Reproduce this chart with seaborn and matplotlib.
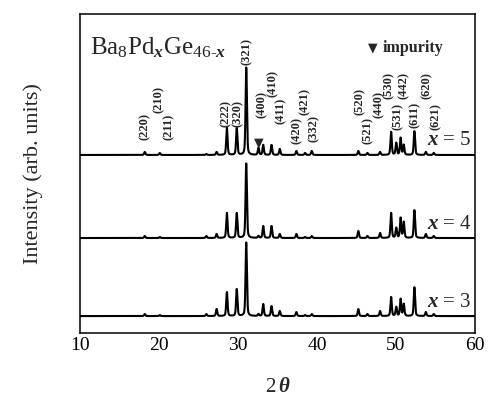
import numpy as np
import pandas as pd
import matplotlib
matplotlib.use("Agg")
import matplotlib.pyplot as plt
import seaborn as sns

# Reflection positions (2θ, degrees) and peak heights for each composition
peak_pos = [18.2, 20.1, 26.0, 27.3, 28.6, 29.85, 31.05, 32.6, 33.2, 34.25, 35.3,
            37.4, 38.5, 39.35, 45.25, 46.4, 48.0, 49.4, 50.05, 50.6, 51.0, 52.35,
            53.8, 54.8]
height_x5 = [3, 2, 1, 3, 27, 27, 88, 7, 10, 10, 6,
             4, 2, 4, 4, 2, 3, 23, 12, 17, 10, 24,
             3, 2]
height_x4 = [2, 1, 2, 4, 25, 25, 75, 2, 12, 12, 4,
             4, 1, 2, 7, 2, 5, 25, 10, 20, 16, 28,
             4, 2]
height_x3 = [2, 1, 2, 7, 24, 27, 74, 2, 12, 10, 5,
             4, 1, 2, 7, 2, 5, 19, 9, 17, 12, 29,
             4, 2]
offsets = {"x = 3": 17, "x = 4": 95, "x = 5": 178}
heights = {"x = 3": height_x3, "x = 4": height_x4, "x = 5": height_x5}

# hkl labels above the x = 5 pattern: (text, 2θ, lower end of label)
hkl_text = ["(220)", "(210)", "(211)", "(222)", "(320)", "(321)", "(400)", "(410)",
            "(411)", "(420)", "(421)", "(332)", "(520)", "(521)", "(440)", "(530)",
            "(531)", "(442)", "(611)", "(620)", "(621)"]
hkl_pos = [18.2, 20.0, 21.3, 28.4, 30.0, 31.1, 33.0, 34.4, 35.4, 37.4, 38.5, 39.6,
           45.4, 46.5, 47.8, 49.1, 50.3, 51.0, 52.4, 53.9, 55.0]
hkl_base = [193, 220, 193, 206, 206, 268, 215, 236, 209, 189, 218, 191,
            218, 189, 215, 234, 203, 234, 205, 234, 203]

two_theta = np.arange(10.0, 60.0001, 0.02)


def profile(pos, h, w=0.2):
    y = np.zeros_like(two_theta)
    for p, a in zip(pos, h):
        g = np.exp(-4 * np.log(2) * ((two_theta - p) / w) ** 2)
        lz = 1.0 / (1.0 + 4 * ((two_theta - p) / w) ** 2)
        y += a * (0.6 * g + 0.4 * lz)
    return y


frames = []
for name in ["x = 3", "x = 4", "x = 5"]:
    frames.append(pd.DataFrame({"2theta": two_theta,
                                "I": offsets[name] + profile(peak_pos, heights[name]),
                                "sample": name}))
df = pd.concat(frames, ignore_index=True)

sns.set_style("white")
plt.rcParams["font.family"] = ["Liberation Serif", "DejaVu Serif"]
plt.rcParams["mathtext.fontset"] = "custom"
plt.rcParams["mathtext.rm"] = "Liberation Serif"
plt.rcParams["mathtext.it"] = "Liberation Serif:italic:bold"
plt.rcParams["mathtext.bf"] = "Liberation Serif:bold"

fig = plt.figure(figsize=(4.88, 3.97), dpi=100)
ax = fig.add_axes([0.164, 0.161, 0.809, 0.804])

sns.lineplot(data=df, x="2theta", y="I", units="sample", estimator=None,
             color="black", lw=1.5, ax=ax, legend=False)

ax.set_xlim(10, 60)
ax.set_ylim(0, 319)
ax.set_yticks([])
ax.set_xticks([10, 20, 30, 40, 50, 60])
ax.tick_params(axis="x", direction="in", length=5, width=1.0, labelsize=14,
               pad=3, colors="black")
for s in ax.spines.values():
    s.set_linewidth(1.1)
    s.set_color("black")

ax.set_xlabel(r"2$\,\theta$", fontsize=15, labelpad=17)
ax.set_ylabel("Intensity (arb. units)", fontsize=16, labelpad=27)

# composition labels
for name, off in offsets.items():
    ax.text(59.6, off + 14, "$x$" + name[1:], ha="right", va="center", fontsize=15)

# formula and impurity key
ax.text(11.2, 285, r"Ba$_8$Pd$_x$Ge$_{46\text{-}x}$", ha="left", va="center",
        fontsize=18)
ax.text(47.1, 285, "\u25BC", ha="center", va="center", fontsize=9,
        family="DejaVu Sans")
ax.text(48.3, 285, "impurity", ha="left", va="center", fontsize=11.5,
        fontweight="bold")
ax.text(32.6, 190, "\u25BC", ha="center", va="center", fontsize=9,
        family="DejaVu Sans")

for t, p, b in zip(hkl_text, hkl_pos, hkl_base):
    ax.text(p, b, t, rotation=90, ha="center", va="bottom", fontsize=9,
            fontweight="bold")

fig.savefig("out.png", dpi=100)
